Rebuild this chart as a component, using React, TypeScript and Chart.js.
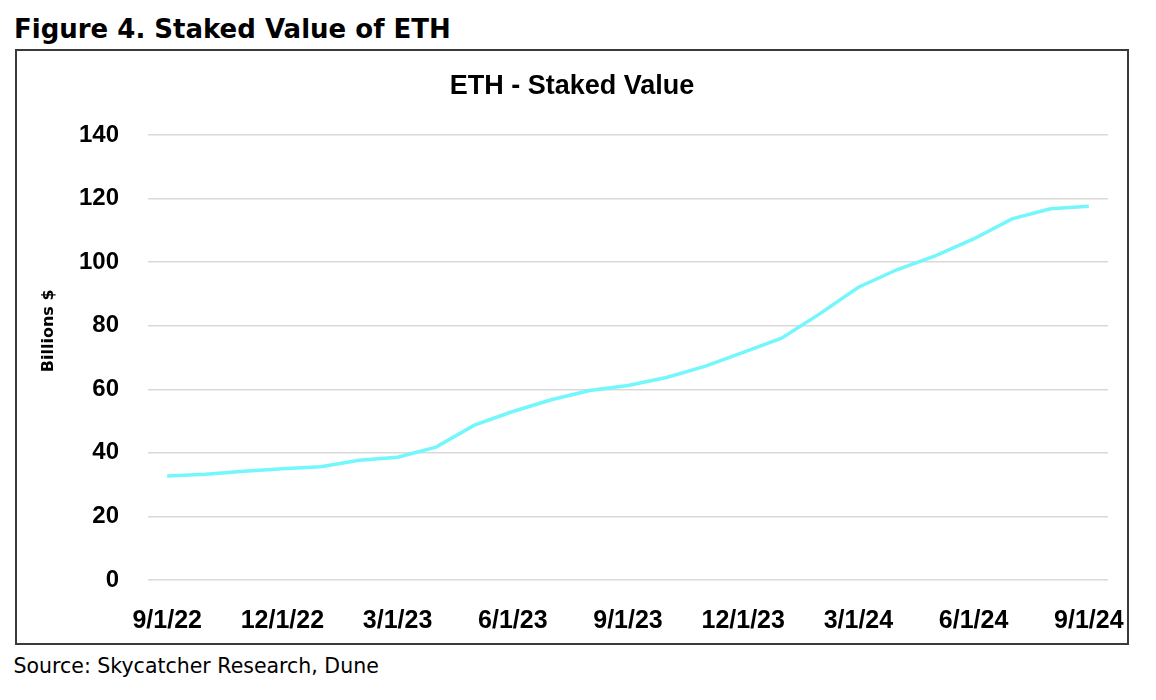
import { useEffect, useRef } from 'react'
import { Chart, registerables } from 'chart.js'

Chart.register(...registerables)

// monthly, 9/1/22 .. 9/1/24
const months = [
  '9/1/22', '10/1/22', '11/1/22', '12/1/22', '1/1/23', '2/1/23', '3/1/23', '4/1/23', '5/1/23',
  '6/1/23', '7/1/23', '8/1/23', '9/1/23', '10/1/23', '11/1/23', '12/1/23', '1/1/24', '2/1/24',
  '3/1/24', '4/1/24', '5/1/24', '6/1/24', '7/1/24', '8/1/24', '9/1/24',
]
const stakedValue = [
  32.7, 33.3, 34.2, 35.0, 35.6, 37.7, 38.6, 41.8, 48.7,
  53.0, 56.7, 59.6, 61.2, 63.7, 67.2, 71.6, 76.1, 83.8,
  92.1, 97.6, 102.0, 107.3, 113.6, 116.8, 117.6,
]
const yTicks = [0, 20, 40, 60, 80, 100, 120, 140]
const yTitle = 'Billions $'

const sans = '"Liberation Sans", Arial, sans-serif'

// y axis title sits a bit above the plot's middle, so draw it by hand
const yTitlePlugin = {
  id: 'yTitle',
  afterDraw(chart: any) {
    const { ctx, chartArea } = chart
    ctx.save()
    ctx.translate(36, chartArea.top + (chartArea.bottom - chartArea.top) * 0.44)
    ctx.rotate(-Math.PI / 2)
    ctx.font = 'bold 16px "DejaVu Sans", sans-serif'
    ctx.fillStyle = '#000'
    ctx.textAlign = 'center'
    ctx.textBaseline = 'alphabetic'
    ctx.fillText(yTitle, 0, 0)
    ctx.restore()
  },
}

export default function App() {
  const chartRef = useRef<HTMLCanvasElement>(null)
  const chartInstance = useRef<Chart | null>(null)

  useEffect(() => {
    if (!chartRef.current) return
    if (chartInstance.current) chartInstance.current.destroy()
    const ctx = chartRef.current.getContext('2d')
    if (!ctx) return

    chartInstance.current = new Chart(ctx, {
      type: 'line',
      data: {
        labels: months,
        datasets: [
          {
            label: 'ETH - Staked Value',
            data: stakedValue,
            borderColor: '#74f7fc',
            borderWidth: 3.5,
            pointRadius: 0,
            tension: 0,
            fill: false,
          },
        ],
      },
      options: {
        animation: false,
        responsive: false,
        maintainAspectRatio: false,
        layout: { padding: 0 },
        plugins: {
          legend: { display: false },
          tooltip: { enabled: false },
          title: {
            display: true,
            text: 'ETH - Staked Value',
            color: '#000',
            font: { family: sans, size: 27, weight: 'bold' },
            padding: { top: 19, bottom: 32.6 },
          },
        },
        scales: {
          x: {
            offset: true,
            grid: { display: false },
            border: { display: false },
            afterFit: (scale: any) => {
              scale.height = 63
              scale.paddingLeft = 0
              scale.paddingRight = 19
            },
            ticks: {
              autoSkip: false,
              maxRotation: 0,
              padding: 18,
              color: '#000',
              font: { family: sans, size: 25, weight: 'bold' },
              callback: (_v: any, i: number) => (i % 3 === 0 ? months[i] : null),
            },
          },
          y: {
            min: 0,
            max: 140,
            afterFit: (scale: any) => { scale.width = 131 },
            afterBuildTicks: (scale: any) => { scale.ticks = yTicks.map((v) => ({ value: v })) },
            grid: { color: '#d9d9d9', lineWidth: 1.5, drawTicks: false },
            border: { display: false },
            ticks: { padding: 29, color: '#000', font: { family: sans, size: 24, weight: 'bold' } },
          },
        },
      },
      plugins: [yTitlePlugin],
    })

    return () => {
      if (chartInstance.current) chartInstance.current.destroy()
    }
  }, [])

  return (
    <div style={{ position: 'absolute', left: 0, top: 0, width: 1156, height: 700, background: '#fff' }}>
      <div
        style={{
          position: 'absolute', left: 14, top: 15.7, fontFamily: '"DejaVu Sans", sans-serif',
          fontWeight: 700, fontSize: 26, lineHeight: '26px', color: '#000', whiteSpace: 'nowrap',
        }}
      >
        Figure 4. Staked Value of ETH
      </div>
      <div
        style={{
          position: 'absolute', left: 15, top: 49, width: 1110, height: 592,
          border: '2px solid #3a3a3a',
        }}
      >
        <canvas ref={chartRef} width={1110} height={592} style={{ display: 'block' }} />
      </div>
      <div
        style={{
          position: 'absolute', left: 13.5, top: 656, fontFamily: '"DejaVu Sans", sans-serif',
          fontSize: 20.5, lineHeight: '20.5px', color: '#000', whiteSpace: 'nowrap',
        }}
      >
        Source: Skycatcher Research, Dune
      </div>
    </div>
  )
}
